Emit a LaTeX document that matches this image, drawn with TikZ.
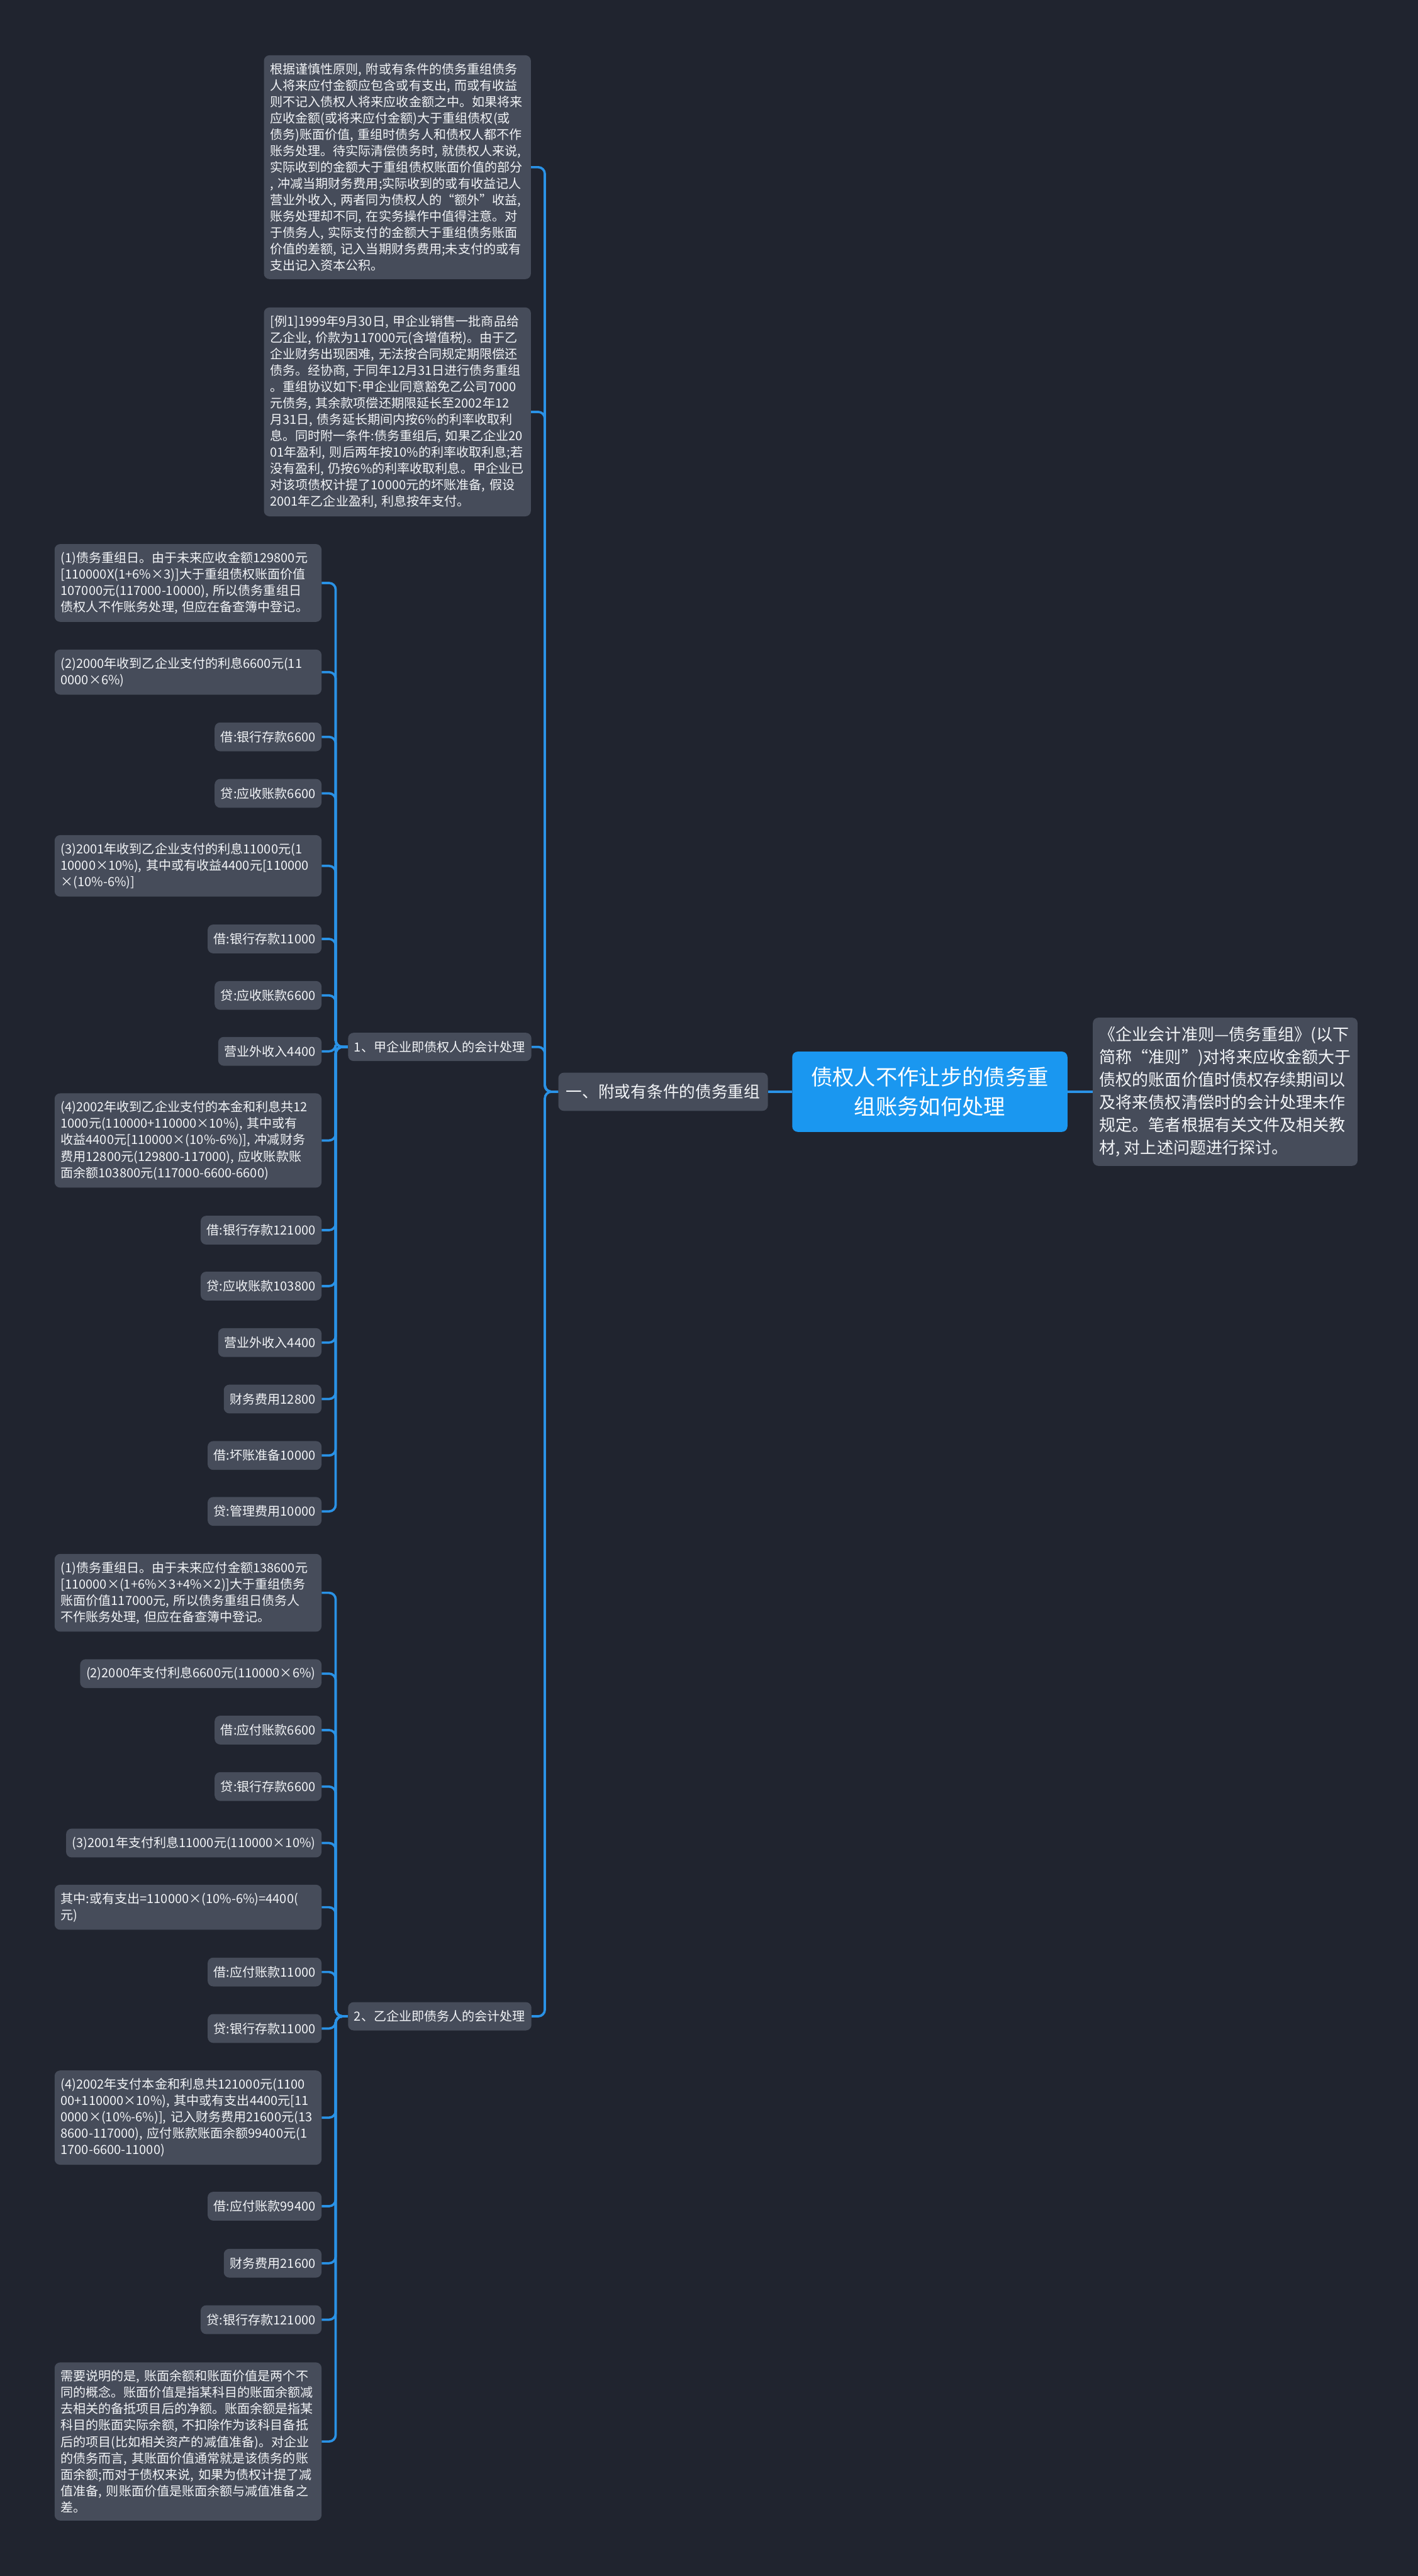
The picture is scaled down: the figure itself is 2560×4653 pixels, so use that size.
\documentclass[tikz,border=0pt]{standalone}
\usepackage{fontspec}
\newfontfamily\cjk{Noto Sans CJK SC}
\usepackage{tikz}
\usetikzlibrary{positioning, calc}
\definecolor{bgdark}{HTML}{20242F}
\definecolor{boxgray}{HTML}{464C5A}
\definecolor{rootblue}{HTML}{1A97F0}
\definecolor{linkblue}{HTML}{2A92E6}
\definecolor{txtwhite}{HTML}{F2F4F7}

\begin{document}
\begin{tikzpicture}[
    x=0.5pt, y=-0.5pt,
    root/.style={fill=rootblue, rounded corners=5pt, align=center, text=white, font=\cjk\fontsize{19.5pt}{26.5pt}\selectfont, minimum width=248.5pt, minimum height=72.5pt},
    intro/.style={fill=boxgray, rounded corners=5pt, align=left, text=txtwhite, font=\cjk\fontsize{14.8pt}{20.5pt}\selectfont, inner xsep=6pt, inner ysep=8pt, anchor=west},
    branch/.style={fill=boxgray, rounded corners=5pt, text=txtwhite, font=\cjk\fontsize{14.6pt}{18pt}\selectfont, minimum height=34.5pt, inner xsep=7pt, anchor=east},
    part/.style={fill=boxgray, rounded corners=5pt, text=txtwhite, font=\cjk\fontsize{11.4pt}{14.8pt}\selectfont, minimum height=25.5pt, inner xsep=5.5pt, anchor=east},
    leaf/.style={fill=boxgray, rounded corners=5pt, text=txtwhite, font=\cjk\fontsize{11.4pt}{14.8pt}\selectfont, minimum height=26pt, inner xsep=5.5pt, anchor=east},
    note/.style={leaf, align=left, text width=230pt, inner ysep=7pt},
    link/.style={draw=linkblue, line width=2.1pt, rounded corners=6pt}
]
\fill[bgdark] (0,0) rectangle (2560,4653);

% centre and right side
\node[root] (root) at (1679,1972) {债权人不作让步的债务重\\组账务如何处理};
\node[intro] (intro) at (1973,1972) {《企业会计准则—债务重组》(以下\\简称“准则”)对将来应收金额大于\\债权的账面价值时债权存续期间以\\及将来债权清偿时的会计处理未作\\规定。笔者根据有关文件及相关教\\材, 对上述问题进行探讨。};
\node[branch] (sec1) at (1387,1972) {一、附或有条件的债务重组};

% first level under sec1
\node[note] (prin) at (959,302) {根据谨慎性原则, 附或有条件的债务重组债务\\人将来应付金额应包含或有支出, 而或有收益\\则不记入债权人将来应收金额之中。如果将来\\应收金额(或将来应付金额)大于重组债权(或\\债务)账面价值, 重组时债务人和债权人都不作\\账务处理。待实际清偿债务时, 就债权人来说,\\实际收到的金额大于重组债权账面价值的部分\\, 冲减当期财务费用;实际收到的或有收益记人\\营业外收入, 两者同为债权人的“额外”收益,\\账务处理却不同, 在实务操作中值得注意。对\\于债务人, 实际支付的金额大于重组债务账面\\价值的差额, 记入当期财务费用;未支付的或有\\支出记入资本公积。};
\node[note] (case) at (959,744) {[例1]1999年9月30日, 甲企业销售一批商品给\\乙企业, 价款为117000元(含增值税)。由于乙\\企业财务出现困难, 无法按合同规定期限偿还\\债务。经协商, 于同年12月31日进行债务重组\\。重组协议如下:甲企业同意豁免乙公司7000\\元债务, 其余款项偿还期限延长至2002年12\\月31日, 债务延长期间内按6\%的利率收取利\\息。同时附一条件:债务重组后, 如果乙企业20\\01年盈利, 则后两年按10\%的利率收取利息;若\\没有盈利, 仍按6\%的利率收取利息。甲企业已\\对该项债权计提了10000元的坏账准备, 假设\\2001年乙企业盈利, 利息按年支付。};
\node[part] (creditor) at (960,1891) {1、甲企业即债权人的会计处理};
\node[part] (debtor) at (960,3642) {2、乙企业即债务人的会计处理};

% creditor side
\node[note] (cr1) at (581,1053) {(1)债务重组日。由于未来应收金额129800元\\{}[110000X(1+6\%×3)]大于重组债权账面价值\\107000元(117000-10000), 所以债务重组日\\债权人不作账务处理, 但应在备查簿中登记。};
\node[note] (cr2) at (581,1214) {(2)2000年收到乙企业支付的利息6600元(11\\0000×6\%)};
\node[leaf] (cr3) at (581,1331) {借:银行存款6600};
\node[leaf] (cr4) at (581,1433) {贷:应收账款6600};
\node[note] (cr5) at (581,1564) {(3)2001年收到乙企业支付的利息11000元(1\\10000×10\%), 其中或有收益4400元[110000\\×(10\%-6\%)]};
\node[leaf] (cr6) at (581,1696) {借:银行存款11000};
\node[leaf] (cr7) at (581,1798) {贷:应收账款6600};
\node[leaf] (cr8) at (581,1899) {营业外收入4400};
\node[note] (cr9) at (581,2060) {(4)2002年收到乙企业支付的本金和利息共12\\1000元(110000+110000×10\%), 其中或有\\收益4400元[110000×(10\%-6\%)], 冲减财务\\费用12800元(129800-117000), 应收账款账\\面余额103800元(117000-6600-6600)};
\node[leaf] (cr10) at (581,2222) {借:银行存款121000};
\node[leaf] (cr11) at (581,2323) {贷:应收账款103800};
\node[leaf] (cr12) at (581,2425) {营业外收入4400};
\node[leaf] (cr13) at (581,2527) {财务费用12800};
\node[leaf] (cr14) at (581,2629) {借:坏账准备10000};
\node[leaf] (cr15) at (581,2730) {贷:管理费用10000};

% debtor side
\node[note] (db1) at (581,2877) {(1)债务重组日。由于未来应付金额138600元\\{}[110000×(1+6\%×3+4\%×2)]大于重组债务\\账面价值117000元, 所以债务重组日债务人\\不作账务处理, 但应在备查簿中登记。};
\node[leaf] (db2) at (581,3023) {(2)2000年支付利息6600元(110000×6\%)};
\node[leaf] (db3) at (581,3125) {借:应付账款6600};
\node[leaf] (db4) at (581,3227) {贷:银行存款6600};
\node[leaf] (db5) at (581,3329) {(3)2001年支付利息11000元(110000×10\%)};
\node[note] (db6) at (581,3445) {其中:或有支出=110000×(10\%-6\%)=4400(\\元)};
\node[leaf] (db7) at (581,3562) {借:应付账款11000};
\node[leaf] (db8) at (581,3664) {贷:银行存款11000};
\node[note] (db9) at (581,3825) {(4)2002年支付本金和利息共121000元(1100\\00+110000×10\%), 其中或有支出4400元[11\\0000×(10\%-6\%)], 记入财务费用21600元(13\\8600-117000), 应付账款账面余额99400元(1\\1700-6600-11000)};
\node[leaf] (db10) at (581,3985) {借:应付账款99400};
\node[leaf] (db11) at (581,4088) {财务费用21600};
\node[leaf] (db12) at (581,4190) {贷:银行存款121000};
\node[note] (db13) at (581,4410) {需要说明的是, 账面余额和账面价值是两个不\\同的概念。账面价值是指某科目的账面余额减\\去相关的备抵项目后的净额。账面余额是指某\\科目的账面实际余额, 不扣除作为该科目备抵\\后的项目(比如相关资产的减值准备)。对企业\\的债务而言, 其账面价值通常就是该债务的账\\面余额;而对于债权来说, 如果为债权计提了减\\值准备, 则账面价值是账面余额与减值准备之\\差。};

% connectors
\draw[link] (root.east) -- (intro.west);
\draw[link] (root.west) -- (sec1.east);

\draw[link] (sec1.west) -- ++(-24,0) |- (prin.east);
\draw[link] (sec1.west) -- ++(-24,0) |- (case.east);
\draw[link] (sec1.west) -- ++(-24,0) |- (creditor.east);
\draw[link] (sec1.west) -- ++(-24,0) |- (debtor.east);

\draw[link] (creditor.west) -- ++(-22,0) |- (cr1.east);
\draw[link] (creditor.west) -- ++(-22,0) |- (cr2.east);
\draw[link] (creditor.west) -- ++(-22,0) |- (cr3.east);
\draw[link] (creditor.west) -- ++(-22,0) |- (cr4.east);
\draw[link] (creditor.west) -- ++(-22,0) |- (cr5.east);
\draw[link] (creditor.west) -- ++(-22,0) |- (cr6.east);
\draw[link] (creditor.west) -- ++(-22,0) |- (cr7.east);
\draw[link] (creditor.west) -- ++(-22,0) |- (cr8.east);
\draw[link] (creditor.west) -- ++(-22,0) |- (cr9.east);
\draw[link] (creditor.west) -- ++(-22,0) |- (cr10.east);
\draw[link] (creditor.west) -- ++(-22,0) |- (cr11.east);
\draw[link] (creditor.west) -- ++(-22,0) |- (cr12.east);
\draw[link] (creditor.west) -- ++(-22,0) |- (cr13.east);
\draw[link] (creditor.west) -- ++(-22,0) |- (cr14.east);
\draw[link] (creditor.west) -- ++(-22,0) |- (cr15.east);

\draw[link] (debtor.west) -- ++(-22,0) |- (db1.east);
\draw[link] (debtor.west) -- ++(-22,0) |- (db2.east);
\draw[link] (debtor.west) -- ++(-22,0) |- (db3.east);
\draw[link] (debtor.west) -- ++(-22,0) |- (db4.east);
\draw[link] (debtor.west) -- ++(-22,0) |- (db5.east);
\draw[link] (debtor.west) -- ++(-22,0) |- (db6.east);
\draw[link] (debtor.west) -- ++(-22,0) |- (db7.east);
\draw[link] (debtor.west) -- ++(-22,0) |- (db8.east);
\draw[link] (debtor.west) -- ++(-22,0) |- (db9.east);
\draw[link] (debtor.west) -- ++(-22,0) |- (db10.east);
\draw[link] (debtor.west) -- ++(-22,0) |- (db11.east);
\draw[link] (debtor.west) -- ++(-22,0) |- (db12.east);
\draw[link] (debtor.west) -- ++(-22,0) |- (db13.east);
\end{tikzpicture}
\end{document}
